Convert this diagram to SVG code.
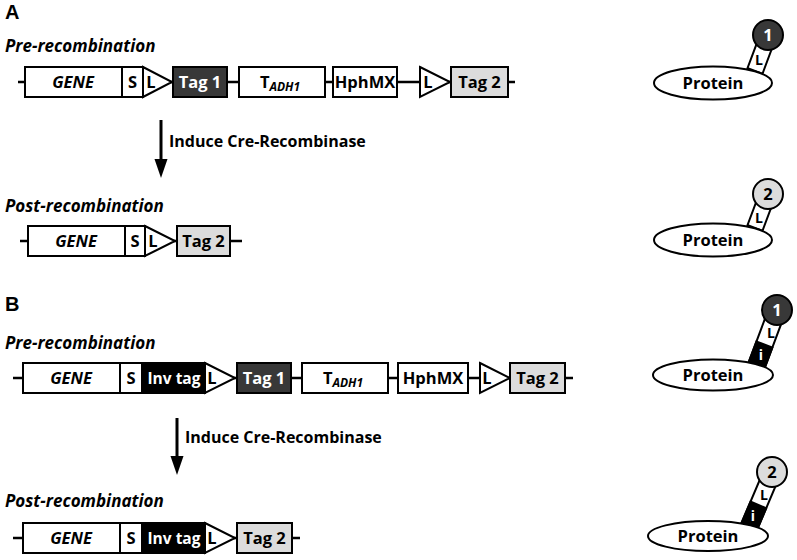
<svg xmlns="http://www.w3.org/2000/svg" width="797" height="560" viewBox="0 0 797 560">
<style>
.t{font-family:"Open Sans",Lato,"Liberation Sans",sans-serif;font-weight:bold;}
.lab{font-size:16.5px;text-anchor:middle;}
.it{font-style:italic;}
.hdr{font-family:"Liberation Sans",Arial,sans-serif;font-weight:bold;font-size:20px;}
.stage{font-size:17px;font-style:italic;}
.ind{font-size:16px;}
.box{fill:#fff;stroke:#000;stroke-width:2;}
.dark{fill:#383838;stroke:#000;stroke-width:2;}
.light{fill:#dcdcdc;stroke:#000;stroke-width:2;}
.blk{fill:#000;stroke:#000;stroke-width:2;}
.bb{stroke:#000;stroke-width:2.5;fill:none;}
.w{fill:#fff;}
.sm{font-size:14px;text-anchor:middle;}
.inv{font-size:15.5px;}
</style>

<text class="hdr" x="5" y="19">A</text>
<text class="hdr" x="5" y="311">B</text>

<g id="labels" class="t">
<text class="stage" x="5" y="52">Pre-recombination</text>
<text class="stage" x="5" y="212">Post-recombination</text>
<text class="stage" x="5" y="349">Pre-recombination</text>
<text class="stage" x="5" y="507">Post-recombination</text>
</g>

<g id="connectors">
<line x1="18" y1="82" x2="515" y2="82" class="bb"/>
<line x1="20" y1="241" x2="242" y2="241" class="bb"/>
<line x1="13" y1="378" x2="573" y2="378" class="bb"/>
<line x1="13" y1="538" x2="300" y2="538" class="bb"/>
<line x1="161" y1="120" x2="161" y2="162" stroke="#000" stroke-width="3"/>
<path d="M154.5,159 L167.5,159 L161,178 Z" fill="#000"/>
<line x1="177" y1="418" x2="177" y2="459" stroke="#000" stroke-width="3"/>
<path d="M170.5,456 L183.5,456 L177,475 Z" fill="#000"/>
</g>
<text class="t ind" x="169" y="147">Induce Cre-Recombinase</text>
<text class="t ind" x="185" y="443">Induce Cre-Recombinase</text>

<g id="a-pre" class="t">
<rect class="box" x="25" y="67" width="97" height="30"/><text class="lab it" x="73" y="88">GENE</text>
<rect class="box" x="122" y="67" width="21" height="30"/><text class="lab" x="132.5" y="88">S</text>
<path class="box" d="M143,67 L172,82 L143,97 Z"/><text class="lab" x="151" y="88">L</text>
<rect class="dark" x="173" y="67" width="54" height="30"/><text class="lab w" x="200" y="88">Tag 1</text>
<rect class="box" x="239" y="67" width="86" height="30"/><text class="lab" x="280" y="88">T<tspan class="it" font-size="12" dy="3">ADH1</tspan></text>
<rect class="box" x="333" y="67" width="64" height="30"/><text class="lab" x="365" y="88">HphMX</text>
<path class="box" d="M420,67 L450,82 L420,97 Z"/><text class="lab" x="428" y="88">L</text>
<rect class="light" x="451" y="67" width="57" height="30"/><text class="lab" x="479.5" y="88">Tag 2</text>
</g>

<g id="a-post" class="t">
<rect class="box" x="28" y="226" width="97" height="30"/><text class="lab it" x="76" y="247">GENE</text>
<rect class="box" x="125" y="226" width="20" height="30"/><text class="lab" x="135" y="247">S</text>
<path class="box" d="M145,226 L175,241 L145,256 Z"/><text class="lab" x="153" y="247">L</text>
<rect class="light" x="177" y="226" width="53" height="30"/><text class="lab" x="203.5" y="247">Tag 2</text>
</g>

<g id="b-pre" class="t">
<rect class="box" x="23" y="363" width="97" height="30"/><text class="lab it" x="71" y="384">GENE</text>
<rect class="box" x="120" y="363" width="22" height="30"/><text class="lab" x="131" y="384">S</text>
<rect class="blk" x="142" y="363" width="63" height="30"/><text class="lab inv w" x="174" y="384">Inv tag</text>
<path class="box" d="M205,363 L235,378 L205,393 Z"/><text class="lab" x="212" y="384">L</text>
<rect class="dark" x="237" y="363" width="54" height="30"/><text class="lab w" x="264" y="384">Tag 1</text>
<rect class="box" x="302" y="363" width="86" height="30"/><text class="lab" x="343" y="384">T<tspan class="it" font-size="12" dy="3">ADH1</tspan></text>
<rect class="box" x="398" y="363" width="70" height="30"/><text class="lab" x="433" y="384">HphMX</text>
<path class="box" d="M480,363 L510,378 L480,393 Z"/><text class="lab" x="487" y="384">L</text>
<rect class="light" x="510" y="363" width="55" height="30"/><text class="lab" x="537.5" y="384">Tag 2</text>
</g>

<g id="b-post" class="t">
<rect class="box" x="23" y="523" width="97" height="30"/><text class="lab it" x="71" y="544">GENE</text>
<rect class="box" x="120" y="523" width="22" height="30"/><text class="lab" x="131" y="544">S</text>
<rect class="blk" x="142" y="523" width="63" height="30"/><text class="lab inv w" x="174" y="544">Inv tag</text>
<path class="box" d="M205,523 L235,538 L205,553 Z"/><text class="lab" x="212" y="544">L</text>
<rect class="light" x="237" y="523" width="55" height="30"/><text class="lab" x="264.5" y="544">Tag 2</text>
</g>

<g id="protein-a1" class="t">
<rect class="box" x="-8" y="-38" width="16" height="38" transform="translate(755,71) rotate(20.5)"/>
<ellipse class="box" cx="713" cy="83" rx="59" ry="16.5"/>
<text class="lab" x="713" y="89">Protein</text>
<circle class="dark" cx="768" cy="35" r="15"/>
<text class="lab w" x="768" y="41">1</text>
<text class="sm" x="759" y="65">L</text>
</g>

<g id="protein-a2" class="t">
<rect class="box" x="-8" y="-36" width="16" height="36" transform="translate(755,228) rotate(20.5)"/>
<ellipse class="box" cx="713" cy="240" rx="59" ry="16.5"/>
<text class="lab" x="713" y="246">Protein</text>
<circle class="light" cx="768" cy="194" r="15"/>
<text class="lab" x="768" y="200">2</text>
<text class="sm" x="759" y="223">L</text>
</g>

<g id="protein-b1" class="t">
<g transform="translate(756,367) rotate(20.5)">
<rect class="box" x="-8.5" y="-60" width="17" height="60"/>
<rect class="blk" x="-8.5" y="-24" width="17" height="24"/>
</g>
<ellipse class="box" cx="713" cy="375" rx="60" ry="15.5"/>
<text class="lab" x="713" y="381">Protein</text>
<circle class="dark" cx="777" cy="310" r="15"/>
<text class="lab w" x="777" y="316">1</text>
<text class="sm" x="771" y="338">L</text>
<text class="sm w" x="761" y="360">i</text>
</g>

<g id="protein-b2" class="t">
<g transform="translate(749,527) rotate(23)">
<rect class="box" x="-8.5" y="-60" width="17" height="60"/>
<rect class="blk" x="-8.5" y="-24" width="17" height="24"/>
</g>
<ellipse class="box" cx="708" cy="536" rx="60" ry="15"/>
<text class="lab" x="708" y="542">Protein</text>
<circle class="light" cx="772" cy="472" r="15"/>
<text class="lab" x="772" y="478">2</text>
<text class="sm" x="764" y="500">L</text>
<text class="sm w" x="753" y="521">i</text>
</g>
</svg>
